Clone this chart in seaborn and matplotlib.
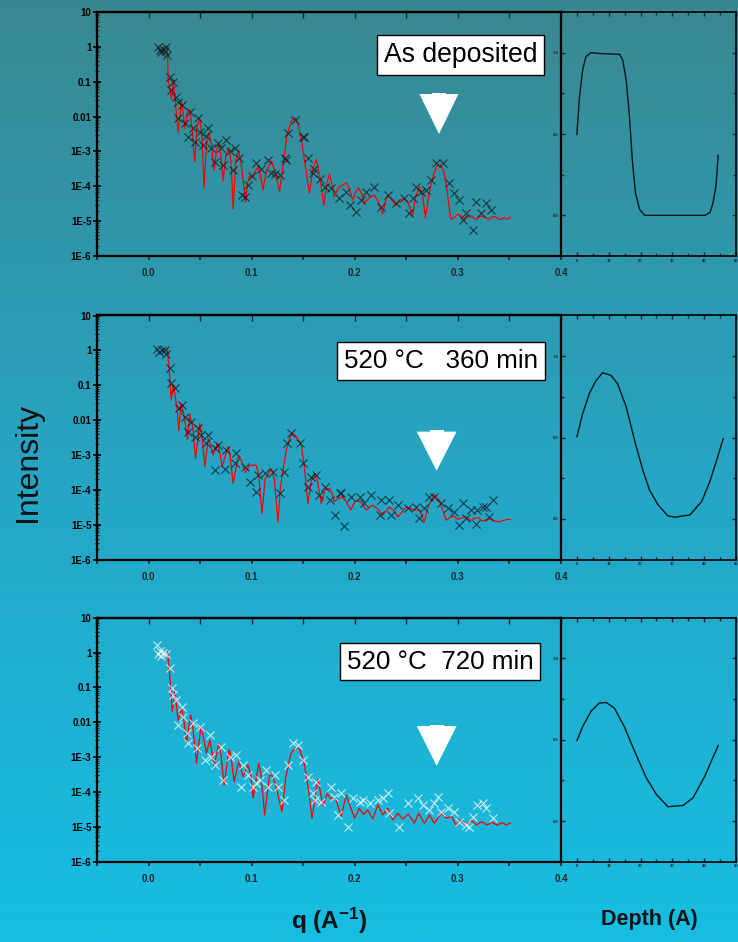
import numpy as np
import pandas as pd
import matplotlib
matplotlib.use("Agg")
import matplotlib.pyplot as plt
import seaborn as sns
from matplotlib.patches import Polygon, Rectangle
from matplotlib.ticker import LogLocator, NullFormatter

# ---------------- data ----------------
# panel 1 : as deposited  (q in 1/A, log10 intensity)
fit1_q = [0.018, 0.0185, 0.019, 0.0205, 0.0223, 0.0239, 0.026, 0.0287, 0.0319, 0.0335, 0.0352, 0.0375,
          0.040, 0.0425, 0.0448, 0.047, 0.0497, 0.052, 0.0539, 0.056, 0.0584, 0.061, 0.0636, 0.066,
          0.068, 0.070, 0.0723, 0.075, 0.0781, 0.080, 0.082, 0.0845, 0.0874, 0.090, 0.0942, 0.096,
          0.098, 0.1005, 0.103, 0.1062, 0.108, 0.111, 0.114, 0.119, 0.123, 0.127, 0.130, 0.134,
          0.138, 0.1416, 0.145, 0.149, 0.153, 0.156, 0.1595, 0.1626, 0.166, 0.170, 0.1728, 0.1755,
          0.178, 0.180, 0.184, 0.1917, 0.195, 0.198, 0.201, 0.2036, 0.2065, 0.2094, 0.213, 0.2159,
          0.219, 0.223, 0.227, 0.2295, 0.232, 0.236, 0.240, 0.244, 0.248, 0.252, 0.256, 0.259,
          0.2626, 0.266, 0.2684, 0.272, 0.2765, 0.280, 0.283, 0.286, 0.289, 0.2915, 0.2934, 0.297,
          0.300, 0.303, 0.306, 0.309, 0.312, 0.315, 0.318, 0.321, 0.324, 0.327, 0.330, 0.333,
          0.336, 0.339, 0.342, 0.345, 0.348, 0.351]
fit1_log = [0.0, -0.3, -0.9, -1.2, -1.5, -1.0, -1.6, -2.45, -1.55, -1.9, -2.35, -1.9,
            -1.8, -2.4, -3.3, -2.3, -2.05, -2.7, -4.05, -2.8, -2.45, -2.8, -3.55, -2.95,
            -2.78, -3.1, -3.85, -3.1, -2.92, -3.3, -4.65, -3.3, -2.97, -3.4, -4.45, -3.9,
            -3.7, -3.75, -3.6, -3.45, -3.6, -4.1, -3.6, -3.27, -3.6, -4.15, -3.5, -2.6,
            -2.15, -2.03, -2.2, -2.8, -3.6, -4.2, -3.5, -3.23, -3.7, -4.55, -3.9, -3.65,
            -3.95, -4.3, -4.05, -3.9, -4.1, -4.4, -4.15, -4.05, -4.2, -4.5, -4.35, -4.3,
            -4.25, -4.45, -4.8, -4.45, -4.25, -4.4, -4.55, -4.4, -4.35, -4.5, -4.85, -4.3,
            -4.02, -4.3, -4.9, -4.2, -3.65, -3.4, -3.38, -3.55, -4.0, -4.6, -4.95, -4.88,
            -4.8, -4.85, -4.95, -4.85, -4.83, -4.9, -4.95, -4.87, -4.85, -4.9, -4.95, -4.88,
            -4.87, -4.92, -4.95, -4.9, -4.95, -4.88]
obs1_q = [0.0094, 0.011, 0.0125, 0.014, 0.0155, 0.017, 0.018, 0.0207, 0.0216, 0.0239, 0.0265, 0.0287,
          0.032, 0.0287, 0.035, 0.038, 0.040, 0.043, 0.045, 0.048, 0.050, 0.053, 0.0555, 0.0578,
          0.061, 0.064, 0.0675, 0.0705, 0.0723, 0.0755, 0.079, 0.082, 0.0835, 0.088, 0.091, 0.0933,
          0.0965, 0.100, 0.1045, 0.109, 0.1159, 0.119, 0.123, 0.127, 0.132, 0.1336, 0.135, 0.1416,
          0.1497, 0.1507, 0.1546, 0.159, 0.1604, 0.1658, 0.171, 0.177, 0.185, 0.1917, 0.195, 0.2014,
          0.206, 0.211, 0.219, 0.2256, 0.232, 0.240, 0.248, 0.253, 0.256, 0.2595, 0.2643, 0.2691,
          0.274, 0.2788, 0.2853, 0.2917, 0.2966, 0.301, 0.3046, 0.3078, 0.3143, 0.3175, 0.3224,
          0.3272, 0.332]
obs1_log = [0.0, -0.08, -0.15, -0.05, -0.12, 0.0, -0.23, -0.86, -1.24, -1.0, -1.45, -1.57,
            -1.67, -2.05, -2.19, -2.6, -1.86, -2.34, -2.72, -2.05, -2.45, -2.82, -2.55, -2.34,
            -2.91, -3.3, -2.77, -2.9, -3.39, -2.67, -3.0, -3.53, -2.91, -3.2, -4.25, -4.30,
            -3.96, -3.7, -3.34, -3.5, -3.25, -3.63, -3.65, -3.68, -3.2, -3.25, -2.48, -2.10,
            -2.58, -2.58, -3.2, -3.63, -3.49, -3.8, -4.01, -4.06, -4.35, -4.15, -4.54, -4.73,
            -4.39, -4.15, -4.01, -4.58, -4.25, -4.49, -4.35, -4.78, -4.35, -4.01, -4.15, -4.11,
            -3.82, -3.34, -3.34, -3.91, -4.2, -4.39, -4.97, -4.78, -5.25, -4.44, -4.78,
            -4.49, -4.68]

# panel 2 : 520 C, 360 min
fit2_q = [0.0184, 0.0197, 0.022, 0.0239, 0.026, 0.0277, 0.0294, 0.0313, 0.034, 0.0378, 0.040, 0.043,
          0.0455, 0.0497, 0.052, 0.0545, 0.0578, 0.060, 0.0626, 0.0668, 0.069, 0.0713, 0.0771, 0.079,
          0.082, 0.0868, 0.090, 0.094, 0.098, 0.1045, 0.107, 0.110, 0.113, 0.119, 0.122, 0.1255,
          0.128, 0.133, 0.137, 0.140, 0.144, 0.148, 0.151, 0.1546, 0.158, 0.161, 0.164, 0.1675,
          0.171, 0.1755, 0.178, 0.180, 0.184, 0.188, 0.192, 0.196, 0.200, 0.203, 0.207, 0.211,
          0.2175, 0.222, 0.227, 0.2334, 0.238, 0.2417, 0.250, 0.255, 0.2594, 0.263, 0.2675, 0.271,
          0.2772, 0.282, 0.2885, 0.292, 0.296, 0.300, 0.304, 0.308, 0.312, 0.316, 0.320, 0.324,
          0.328, 0.332, 0.336, 0.340, 0.344, 0.348, 0.351]
fit2_log = [0.03, -0.47, -1.42, -1.0, -1.35, -1.7, -2.3, -1.52, -1.8, -2.55, -1.85, -2.2,
            -3.1, -2.09, -2.5, -3.34, -2.53, -2.7, -3.0, -2.67, -2.9, -3.34, -2.76, -3.0,
            -3.82, -3.05, -3.15, -3.5, -3.3, -3.29, -3.6, -4.68, -3.7, -3.39, -3.7, -4.92,
            -3.9, -2.95, -2.5, -2.38, -2.5, -2.7, -3.3, -4.39, -3.7, -3.53, -3.8, -4.39,
            -4.0, -3.96, -4.1, -4.34, -4.25, -4.2, -4.35, -4.58, -4.35, -4.3, -4.4, -4.58,
            -4.44, -4.55, -4.73, -4.49, -4.6, -4.78, -4.49, -4.55, -4.58, -4.6, -4.92, -4.5,
            -4.15, -4.3, -4.87, -4.8, -4.75, -4.85, -4.8, -4.78, -4.88, -4.82, -4.8, -4.9,
            -4.85, -4.83, -4.9, -4.92, -4.88, -4.85, -4.85]
obs2_q = [0.008, 0.0105, 0.013, 0.0155, 0.0165, 0.0207, 0.0216, 0.0255, 0.0294, 0.032, 0.0358, 0.0384,
          0.0416, 0.0448, 0.048, 0.0513, 0.0561, 0.0578, 0.0642, 0.0642, 0.0675, 0.0739, 0.0755, 0.0836,
          0.0852, 0.0932, 0.098, 0.1045, 0.106, 0.1126, 0.1207, 0.127, 0.1313, 0.1345, 0.1384, 0.1465,
          0.1497, 0.1546, 0.158, 0.1626, 0.165, 0.171, 0.1755, 0.181, 0.186, 0.1868, 0.190, 0.1965,
          0.2046, 0.2094, 0.2159, 0.224, 0.2256, 0.2336, 0.2352, 0.2417, 0.2514, 0.2594, 0.2627, 0.2675,
          0.2724, 0.2772, 0.2836, 0.290, 0.2966, 0.3014, 0.3046, 0.3078, 0.3127, 0.3175, 0.319, 0.324,
          0.327, 0.330, 0.3337]
obs2_log = [0.05, -0.05, 0.0, 0.0, -0.1, -0.51, -0.94, -1.09, -1.66, -1.57, -1.9, -2.33,
            -2.05, -2.48, -2.24, -2.43, -2.67, -2.43, -2.81, -3.43, -2.72, -3.39, -2.86, -3.24,
            -2.95, -3.34, -3.77, -4.06, -3.58, -3.53, -3.48, -4.1, -3.48, -2.67, -2.38, -2.67,
            -3.24, -3.91, -3.63, -3.58, -4.15, -3.91, -4.3, -4.73, -4.1, -4.1, -5.04, -4.2,
            -4.2, -4.39, -4.15, -4.73, -4.3, -4.3, -4.73, -4.44, -4.53, -4.49, -4.82, -4.53,
            -4.2, -4.2, -4.39, -4.53, -4.63, -5.01, -4.39, -4.82, -4.58, -4.99, -4.58, -4.49,
            -4.49, -4.78, -4.3]

# panel 3 : 520 C, 720 min
fit3_q = [0.0184, 0.0206, 0.0229, 0.0255, 0.0287, 0.032, 0.0345, 0.0368, 0.041, 0.0435, 0.0465, 0.0507,
          0.053, 0.0561, 0.0594, 0.061, 0.0636, 0.0681, 0.070, 0.0733, 0.0781, 0.080, 0.083, 0.0875,
          0.0917, 0.0965, 0.099, 0.1014, 0.1068, 0.109, 0.1126, 0.1175, 0.121, 0.124, 0.1294, 0.133,
          0.138, 0.1433, 0.147, 0.151, 0.155, 0.1585, 0.1643, 0.1692, 0.173, 0.177, 0.181, 0.1868,
          0.1917, 0.1997, 0.2046, 0.2085, 0.2126, 0.2175, 0.2224, 0.2272, 0.232, 0.2369, 0.2417, 0.2466,
          0.252, 0.2578, 0.262, 0.2675, 0.2725, 0.2772, 0.2836, 0.289, 0.294, 0.2982, 0.303, 0.3078,
          0.313, 0.318, 0.323, 0.328, 0.333, 0.338, 0.343, 0.347, 0.351]
fit3_log = [0.02, -0.69, -1.7, -1.12, -1.94, -1.6, -2.0, -2.56, -1.79, -2.3, -3.18, -2.13,
            -2.4, -2.89, -2.51, -2.75, -3.27, -2.6, -2.9, -3.8, -2.78, -3.0, -3.7, -3.13,
            -3.56, -3.23, -3.5, -4.18, -3.18, -3.5, -4.66, -3.46, -3.6, -3.9, -4.57, -3.6,
            -2.9, -2.7, -2.8, -3.2, -3.9, -4.75, -3.63, -4.4, -4.05, -4.2, -4.15, -4.7,
            -4.09, -4.75, -4.47, -4.65, -4.52, -4.78, -4.37, -4.66, -4.47, -4.8, -4.61, -4.78,
            -4.63, -4.9, -4.61, -4.9, -4.66, -4.9, -4.61, -4.75, -4.7, -4.95, -4.8, -4.95,
            -4.82, -4.95, -4.85, -4.95, -4.87, -4.95, -4.88, -4.95, -4.88]
obs3_q = [0.008, 0.0095, 0.011, 0.0125, 0.014, 0.0165, 0.0206, 0.0223, 0.024, 0.0271, 0.0287, 0.032,
          0.0336, 0.0368, 0.0384, 0.0433, 0.0465, 0.0497, 0.0546, 0.0594, 0.061, 0.0642, 0.0707, 0.0723,
          0.0788, 0.0852, 0.090, 0.0917, 0.0965, 0.1014, 0.1045, 0.1078, 0.1142, 0.1158, 0.1223, 0.1255,
          0.1313, 0.1352, 0.140, 0.145, 0.1497, 0.1546, 0.1594, 0.161, 0.1626, 0.1675, 0.177, 0.180,
          0.1836, 0.1868, 0.1933, 0.198, 0.2046, 0.208, 0.2143, 0.2224, 0.2272, 0.232, 0.2336, 0.2433,
          0.2514, 0.261, 0.2659, 0.2724, 0.2772, 0.2804, 0.2836, 0.290, 0.2966, 0.3014, 0.3078, 0.311,
          0.3143, 0.319, 0.324, 0.327, 0.3337]
obs3_log = [0.22, -0.05, 0.05, -0.1, 0.0, -0.05, -0.45, -1.03, -1.22, -1.36, -2.08, -1.55,
            -1.84, -2.32, -2.6, -2.03, -2.75, -2.13, -3.08, -2.37, -2.99, -3.23, -2.7, -3.66,
            -2.99, -2.94, -3.85, -3.23, -3.51, -3.85, -3.75, -3.66, -3.37, -3.85, -3.51, -3.85,
            -4.23, -3.23, -2.6, -2.65, -3.08, -3.56, -4.04, -4.23, -3.72, -4.28, -3.85, -4.13,
            -4.66, -4.04, -5.0, -4.18, -4.28, -4.23, -4.32, -4.23, -4.18, -4.04, -4.61, -5.0,
            -4.32, -4.18, -4.37, -4.52, -4.32, -4.13, -4.56, -4.47, -4.56, -4.85, -4.95, -5.0,
            -4.71, -4.37, -4.32, -4.47, -4.75]

# depth profiles (depth in A, normalised value)
prof1_d = [0.0, 0.73, 1.8, 2.8, 4.4, 7.0, 13.4, 14.4, 15.5, 16.5, 17.4, 18.4, 19.7, 21.3, 40.2, 41.8, 42.8, 43.7, 44.4]
prof1_v = [0.496, 0.71, 0.894, 0.975, 1.0, 0.995, 0.99, 0.955, 0.83, 0.61, 0.343, 0.139, 0.037, 0.0, 0.0, 0.016, 0.078, 0.18, 0.37]
prof2_d = [0.0, 1.8, 3.9, 6.0, 8.1, 10.7, 12.8, 15.5, 18.1, 20.7, 22.8, 25.5, 28.6, 30.7, 35.5, 39.2, 41.8, 43.9, 46.0]
prof2_v = [0.504, 0.647, 0.77, 0.85, 0.898, 0.882, 0.83, 0.688, 0.484, 0.3, 0.178, 0.086, 0.018, 0.01, 0.024, 0.106, 0.23, 0.36, 0.494]
prof3_d = [0.0, 1.8, 4.4, 7.0, 9.2, 11.8, 14.9, 18.1, 21.8, 25.0, 28.6, 33.4, 36.5, 40.2, 44.4]
prof3_v = [0.494, 0.58, 0.674, 0.725, 0.729, 0.694, 0.58, 0.43, 0.266, 0.163, 0.088, 0.096, 0.143, 0.276, 0.465]

panel_labels = ["As deposited", "520 °C   360 min", "520 °C  720 min"]
q_ticks = [0.0, 0.1, 0.2, 0.3, 0.4]
q_ticklabels = ["0.0", "0.1", "0.2", "0.3", "0.4"]
i_ticks = [1e-6, 1e-5, 1e-4, 1e-3, 1e-2, 1e-1, 1, 10]
i_ticklabels = ["1E-6", "1E-5", "1E-4", "1E-3", "0.01", "0.1", "1", "10"]
d_ticks = [0, 10, 20, 30, 40, 50]
v_ticks = [0.0, 0.5, 1.0]

# ---------------- style ----------------
sns.set_theme(style="ticks")
plt.rcParams["font.family"] = ["Liberation Sans", "DejaVu Sans"]
plt.rcParams["mathtext.fontset"] = "custom"
plt.rcParams["mathtext.rm"] = "Liberation Sans"
plt.rcParams["mathtext.bf"] = "Liberation Sans:bold"
plt.rcParams["mathtext.it"] = "Liberation Sans:italic"
plt.rcParams["axes.edgecolor"] = "black"

fig = plt.figure(figsize=(7.38, 9.42), dpi=100)

# background gradient
bg = fig.add_axes([0, 0, 1, 1], zorder=-10)
t = np.linspace(0, 1, 400)[:, None]
top_c = np.array([58, 136, 145]) / 255
mid_c = np.array([38, 165, 196]) / 255
bot_c = np.array([22, 190, 226]) / 255
img = np.where(t < 0.5, top_c + (mid_c - top_c) * (t / 0.5), mid_c + (bot_c - mid_c) * ((t - 0.5) / 0.5))
bg.imshow(img[:, None, :], aspect="auto", extent=[0, 1, 0, 1])
bg.set_axis_off()

LX, LW = 97 / 738, 464 / 738
RX, RW = 561 / 738, 175 / 738
H = 244 / 942
bottoms = [1 - 256 / 942, 1 - 559.5 / 942, 1 - 861.7 / 942]

fits = [(fit1_q, fit1_log), (fit2_q, fit2_log), (fit3_q, fit3_log)]
obss = [(obs1_q, obs1_log), (obs2_q, obs2_log), (obs3_q, obs3_log)]
profs = [(prof1_d, prof1_v), (prof2_d, prof2_v), (prof3_d, prof3_v)]
mcolors = ["#0b1a1c", "#0b1a1c", "white"]
box_pos = [(0.783, 0.822), (0.741, 0.813), (0.740, 0.820)]
box_fs = [19.2, 18.7, 18.7]
tri_pos = [(0.695, 0.779, 0.664, 0.500), (0.689, 0.775, 0.524, 0.364), (0.689, 0.775, 0.556, 0.393)]

for k in range(3):
    ax = fig.add_axes([LX, bottoms[k], LW, H], facecolor="none")
    fq, fl = fits[k]
    oq, ol = obss[k]
    dfo = pd.DataFrame({"q": oq, "I": np.power(10.0, ol)})
    dff = pd.DataFrame({"q": fq, "I": np.power(10.0, fl)})
    sns.lineplot(data=dff, x="q", y="I", color="red", lw=0.9, sort=False, estimator=None, ax=ax, zorder=2)
    sns.scatterplot(data=dfo, x="q", y="I", marker="x", color=mcolors[k], s=34, linewidth=0.8,
                    alpha=0.75, ax=ax, zorder=3)
    ax.set_yscale("log")
    ax.set_ylim(1e-6, 10)
    ax.set_xlim(-0.05, 0.4)
    ax.set_xlabel("")
    ax.set_ylabel("")
    ax.set_xticks(q_ticks, q_ticklabels)
    ax.set_xticks([-0.05, 0.05, 0.15, 0.25, 0.35], minor=True)
    ax.set_yticks(i_ticks, i_ticklabels)
    ax.yaxis.set_minor_locator(LogLocator(base=10, subs=np.arange(2, 10)))
    ax.yaxis.set_minor_formatter(NullFormatter())
    ax.tick_params(axis="y", which="major", direction="inout", length=6, width=1.2, labelsize=7, pad=1,
                   colors="black")
    ax.tick_params(axis="y", which="minor", direction="inout", length=3, width=0.8)
    ax.tick_params(axis="x", which="both", direction="out", length=3, width=1.2, labelsize=7, pad=6)
    for lab in ax.get_xticklabels() + ax.get_yticklabels():
        lab.set_fontweight("bold")
    sec = ax.secondary_xaxis("top")
    sec.set_xticks([-0.05, 0.0, 0.05, 0.1, 0.15, 0.2, 0.25, 0.3, 0.35, 0.4])
    sec.set_xticklabels([])
    sec.tick_params(direction="in", length=4, width=1.0)
    sec.spines["top"].set_linewidth(1.6)
    for s in ax.spines.values():
        s.set_linewidth(1.6)
        s.set_color("black")
    ax.grid(False)

    # label box
    bx, by = box_pos[k]
    ax.text(bx, by, panel_labels[k], transform=ax.transAxes, ha="center", va="center",
            fontsize=box_fs[k], color="black", zorder=6,
            bbox=dict(boxstyle="square,pad=0.26", facecolor="white", edgecolor="black", lw=1.0))

    # white arrow
    xl, xr, yt, ya = tri_pos[k]
    ax.add_patch(Polygon([(xl, yt), (xr, yt), ((xl + xr) / 2, ya)], closed=True, transform=ax.transAxes,
                         facecolor="white", edgecolor="none", zorder=5))
    cx = (xl + xr) / 2
    ax.add_patch(Rectangle((cx - 0.015, yt - 0.002), 0.03, 0.008, transform=ax.transAxes,
                           facecolor="white", edgecolor="none", zorder=5))

    # depth profile
    axr = fig.add_axes([RX, bottoms[k], RW, H], facecolor="none")
    pd_, pv = profs[k]
    dfp = pd.DataFrame({"d": pd_, "v": pv})
    sns.lineplot(data=dfp, x="d", y="v", color="#0a1618", lw=1.0, sort=False, estimator=None, ax=axr)
    axr.set_xlim(-5, 50)
    axr.set_ylim(-0.25, 1.25)
    axr.set_xlabel("")
    axr.set_ylabel("")
    axr.set_xticks(d_ticks, [str(v) for v in d_ticks])
    axr.set_xticks([5, 15, 25, 35, 45], minor=True)
    axr.set_yticks(v_ticks, ["0.0", "0.5", "1.0"])
    axr.set_yticks([0.25, 0.75], minor=True)
    axr.tick_params(axis="both", which="both", direction="in", top=True, right=True, width=1.0,
                    labelsize=3, pad=2)
    axr.tick_params(axis="both", which="major", length=3)
    axr.tick_params(axis="both", which="minor", length=2)
    for lab in axr.get_xticklabels() + axr.get_yticklabels():
        lab.set_fontweight("bold")
    for s in axr.spines.values():
        s.set_linewidth(1.2)
        s.set_color("black")
    axr.grid(False)

fig.text(28 / 738, 1 - 462 / 942, "Intensity", rotation=90, ha="center", va="center",
         fontsize=23, color="#111111")
fig.text(329 / 738, 1 - 921 / 942, r"q (A$^{\mathbf{-1}}$)", ha="center", va="center",
         fontsize=17.5, fontweight="bold", color="#111111")
fig.text(649 / 738, 1 - 920 / 942, "Depth (A)", ha="center", va="center",
         fontsize=15.5, fontweight="bold", color="#111111")

fig.savefig("out.png", dpi=100)
